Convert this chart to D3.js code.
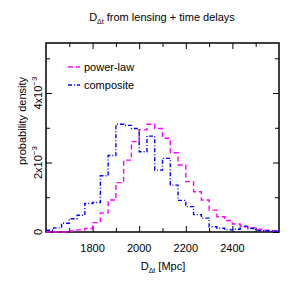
<!DOCTYPE html>
<html>
<head>
<meta charset="utf-8">
<script src="https://cdn.jsdelivr.net/npm/d3@7"></script>
<style>
  body { margin: 0; background: #fff; }
  svg { font-family: "Liberation Sans", Arial, sans-serif; }
  .ax path { stroke: none; }
  .ax line { stroke: #000; stroke-width: 1; }
</style>
</head>
<body>
<svg width="291" height="291"></svg>
<script>
// histogram bins, 1600..2600 Mpc in 30 bins
const binStart = 1600;
const binWidth = 1000 / 30;
// probability density in units of 1e-3
const powerLaw = [0, 0, 0, 0.03, 0.06, 0.1, 0.27, 0.55, 0.92, 1.42,
  2.07, 2.6, 2.94, 3.1, 2.98, 2.7, 2.28, 1.93, 1.45, 1.16,
  0.92, 0.63, 0.44, 0.33, 0.23, 0.15, 0.12, 0.08, 0.05, 0.04];
const composite = [0.05, 0.12, 0.25, 0.38, 0.48, 0.82, 0.85, 1.62, 2.2, 3.1,
  3.07, 2.98, 2.31, 2.76, 1.78, 2.12, 1.35, 0.91, 0.73, 0.5,
  0.4, 0.15, 0.11, 0.06, 0.08, 0.17, 0.1, 0.04, 0.03, 0.02];
const xTickLabels = [1800, 2000, 2200, 2400];
const xMinor = [1700, 1900, 2100, 2300, 2500];
const yTickLabels = [0, 2, 4];
const yMinor = [1, 3, 5];

const svg = d3.select('svg');
const m = { left: 46, right: 279, top: 43, bottom: 232 };

const x = d3.scaleLinear().domain([1600, 2600]).range([m.left, m.right]);
const y = d3.scaleLinear().domain([0, 5.44]).range([m.bottom, m.top]);

// frame
svg.append('rect')
  .attr('x', m.left).attr('y', m.top)
  .attr('width', m.right - m.left).attr('height', m.bottom - m.top)
  .attr('fill', 'none').attr('stroke', '#000').attr('stroke-width', 1.5);

// inward ticks on all four sides
function ticks(axisFn, scale, vals, len, tx, ty) {
  svg.append('g').attr('class', 'ax')
    .attr('transform', `translate(${tx},${ty})`)
    .call(axisFn(scale).tickValues(vals).tickSize(-len).tickFormat(''));
}
ticks(d3.axisBottom, x, xTickLabels, 6, 0, m.bottom);
ticks(d3.axisBottom, x, xMinor, 4, 0, m.bottom);
ticks(d3.axisTop, x, xTickLabels, 6, 0, m.top);
ticks(d3.axisTop, x, xMinor, 4, 0, m.top);
ticks(d3.axisLeft, y, yTickLabels, 6, m.left, 0);
ticks(d3.axisLeft, y, yMinor, 4, m.left, 0);
ticks(d3.axisRight, y, yTickLabels, 6, m.right, 0);
ticks(d3.axisRight, y, yMinor, 4, m.right, 0);

// x tick labels
svg.selectAll('.xl').data(xTickLabels).enter().append('text')
  .attr('x', d => x(d)).attr('y', 252)
  .attr('text-anchor', 'middle').attr('font-size', 11)
  .text(d => d);

// y tick labels, rotated
yTickLabels.forEach(d => {
  const t = svg.append('text')
    .attr('transform', `translate(42,${y(d)}) rotate(-90)`)
    .attr('text-anchor', 'middle').attr('font-size', 11);
  if (d === 0) {
    t.text('0');
  } else {
    t.append('tspan').text(d + 'x10');
    t.append('tspan').attr('dy', -5).attr('font-size', 8).text('\u22123');
  }
});

// histograms
function steps(vals) {
  const pts = vals.map((v, i) => [binStart + i * binWidth, v]);
  pts.push([binStart + vals.length * binWidth, vals[vals.length - 1]]);
  return pts;
}
const line = d3.line().x(d => x(d[0])).y(d => y(d[1])).curve(d3.curveStepAfter);

const series = [
  { name: 'power-law', vals: powerLaw, color: '#ff00ff', dash: '5,3' },
  { name: 'composite', vals: composite, color: '#0000ff', dash: '4,2,1,2' },
];

series.forEach((s, i) => {
  svg.append('path')
    .attr('d', line(steps(s.vals)))
    .attr('fill', 'none')
    .attr('stroke', s.color)
    .attr('stroke-width', 1.4)
    .attr('stroke-dasharray', s.dash);

  const ly = 67 + i * 18;
  svg.append('line')
    .attr('x1', 68).attr('x2', 80).attr('y1', ly).attr('y2', ly)
    .attr('stroke', s.color).attr('stroke-width', 1.4)
    .attr('stroke-dasharray', s.dash);
  svg.append('text')
    .attr('x', 84).attr('y', ly + 4)
    .attr('font-size', 11).text(s.name);
});

// title
const title = svg.append('text')
  .attr('x', 162).attr('y', 21)
  .attr('text-anchor', 'middle').attr('font-size', 11);
title.append('tspan').text('D');
title.append('tspan').attr('font-size', 7).attr('dy', 3).text('\u0394t');
title.append('tspan').attr('dy', -3).text(' from lensing + time delays');

// x label
const xl = svg.append('text')
  .attr('x', 163).attr('y', 270)
  .attr('text-anchor', 'middle').attr('font-size', 11);
xl.append('tspan').text('D');
xl.append('tspan').attr('font-size', 7).attr('dy', 3).text('\u0394t');
xl.append('tspan').attr('dy', -3).text(' [Mpc]');

// y label
svg.append('text')
  .attr('transform', 'translate(26,121) rotate(-90)')
  .attr('text-anchor', 'middle').attr('font-size', 11)
  .text('probability density');
</script>
</body>
</html>
